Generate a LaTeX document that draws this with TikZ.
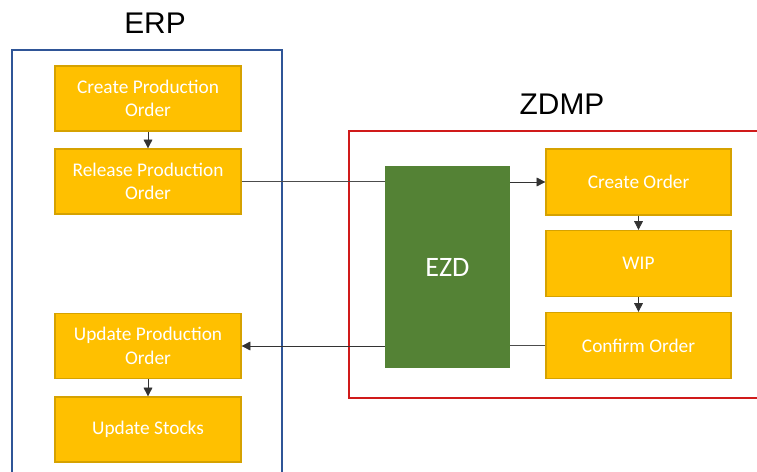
\documentclass[tikz,border=0pt]{standalone}
\usepackage{fontspec}
\setmainfont{Carlito}
\newfontfamily\labelfont{Liberation Sans}
\usetikzlibrary{arrows.meta}

\definecolor{stepgold}{HTML}{FFC000}
\definecolor{stepedge}{HTML}{D6A200}
\definecolor{ezdgreen}{HTML}{548235}
\definecolor{erpblue}{HTML}{2F5597}
\definecolor{zdmpred}{HTML}{D01A1A}

\tikzset{
  task/.style={draw=stepedge,fill=stepgold,line width=0.7pt,text=white,
    minimum width=3.72cm,minimum height=1.3cm,align=center,
    font=\fontsize{11}{13.5}\selectfont,inner sep=0pt},
  flow/.style={-{Triangle[length=5pt,width=5pt]},line width=0.4pt,black!80},
  link/.style={line width=0.4pt,black!70}
}

\begin{document}
\begin{tikzpicture}[x=0.02cm,y=-0.02cm]
         \clip (0,0) rectangle (757,472) ;
         % ERP side
         \node (erp) at (155,23) {\labelfont\fontsize{17}{20}\selectfont ERP} ;
         \draw[color=erpblue,line width=0.8pt] (12,50) rectangle (282,490) ;
         \node[task] (cpo) at (148,98.5) {Create Production\\Order} ;
         \node[task] (rpo) at (148,181.5) {Release Production\\Order} ;
         \node[task] (upo) at (148,346) {Update Production\\Order} ;
         \node[task] (ust) at (148,429.5) {Update Stocks} ;
         \draw[flow] (cpo) -- (rpo) ;
         \draw[flow] (upo) -- (ust) ;
         % ZDMP side
         \node (zdmp) at (562,104) {\labelfont\fontsize{17}{20}\selectfont ZDMP} ;
         \draw[color=zdmpred,line width=0.8pt] (349,131) rectangle (780,398) ;
         \node[fill=ezdgreen,text=white,minimum width=2.5cm,minimum height=4.04cm,
           font=\fontsize{16}{19}\selectfont] (ezd) at (447.5,267) {EZD} ;
         \node[task,minimum width=3.7cm,minimum height=1.32cm] (co) at (638.5,182) {Create Order} ;
         \node[task,minimum width=3.7cm,minimum height=1.32cm] (wip) at (638.5,263.5) {WIP} ;
         \node[task,minimum width=3.7cm,minimum height=1.32cm] (cfo) at (638.5,345.5) {Confirm Order} ;
         \draw[flow] (co) -- (wip) ;
         \draw[flow] (wip) -- (cfo) ;
         % between the two
         \draw[link] (rpo.east) -- (rpo.east -| ezd.west) ;
         \draw[flow] (ezd.east |- co.west) -- (co.west) ;
         \draw[link] (cfo.west) -- (cfo.west -| ezd.east) ;
         \draw[flow] (ezd.west |- upo.east) -- (upo.east) ;
\end{tikzpicture}
\end{document}
